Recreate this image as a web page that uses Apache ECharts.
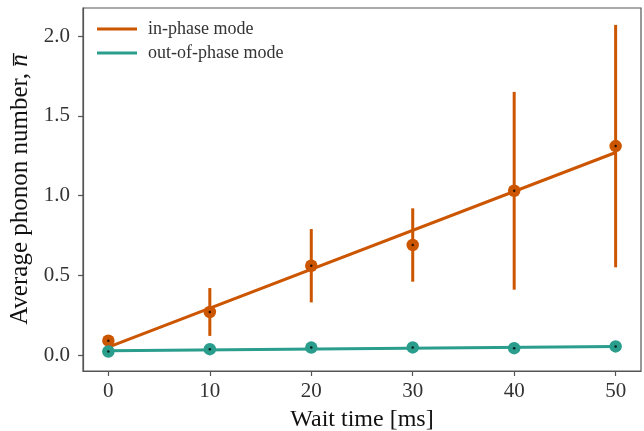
<!DOCTYPE html>
<html>
<head>
<meta charset="utf-8">
<script src="https://cdn.jsdelivr.net/npm/echarts@6/dist/echarts.min.js"></script>
<style>html,body{margin:0;padding:0;background:#fff}#c{width:644px;height:431px}</style>
</head>
<body>
<div id="c"></div>
<script>
// Data
const waitTimes = [0, 10, 20, 30, 40, 50];
const inPhase = [0.09, 0.27, 0.56, 0.69, 1.03, 1.31];
const inPhaseLow = [0.09, 0.12, 0.33, 0.46, 0.41, 0.55];
const inPhaseHigh = [0.09, 0.42, 0.79, 0.92, 1.65, 2.07];
const outPhase = [0.022, 0.037, 0.047, 0.048, 0.043, 0.054];
const fitX = [0, 50];
const inPhaseFit = [0.05, 1.27];
const outPhaseFit = [0.027, 0.053];
const xTicks = [0, 10, 20, 30, 40, 50];
const yTicks = [0, 0.5, 1.0, 1.5, 2.0];

const ORANGE = '#cc5500';
const TEAL = '#2a9d8c';
const FONT = '"Liberation Serif", "DejaVu Serif", serif';
const AXIS = '#555555';

const chart = echarts.init(document.getElementById('c'), null, {renderer: 'canvas'});

function errSeries(low, high, color) {
  return {
    type: 'custom',
    silent: true,
    z: 3,
    data: waitTimes.map((x, i) => [x, low[i], high[i]]),
    encode: {x: 0, y: [1, 2]},
    renderItem: function (params, api) {
      const p1 = api.coord([api.value(0), api.value(1)]);
      const p2 = api.coord([api.value(0), api.value(2)]);
      return {
        type: 'line',
        shape: {x1: p1[0], y1: p1[1], x2: p2[0], y2: p2[1]},
        style: {stroke: color, lineWidth: 3}
      };
    }
  };
}

function pts(vals, color) {
  return [{
    type: 'scatter',
    data: waitTimes.map((x, i) => [x, vals[i]]),
    symbol: 'circle',
    symbolSize: 12.5,
    itemStyle: {color: color, opacity: 1},
    z: 4,
    silent: true
  }, {
    type: 'scatter',
    data: waitTimes.map((x, i) => [x, vals[i]]),
    symbol: 'circle',
    symbolSize: 2.5,
    itemStyle: {color: '#000'},
    z: 5,
    silent: true
  }];
}

function fitLine(name, ys, color) {
  return {
    name: name,
    type: 'line',
    data: fitX.map((x, i) => [x, ys[i]]),
    showSymbol: false,
    symbol: 'none',
    lineStyle: {color: color, width: 3},
    itemStyle: {color: color},
    z: 4,
    silent: true
  };
}

chart.setOption({
  animation: false,
  backgroundColor: '#fff',
  grid: {left: 83, top: 8, right: 3, bottom: 60, containLabel: false, outerBoundsMode: 'none',
         show: true, borderColor: AXIS, borderWidth: 1.2, backgroundColor: 'transparent'},
  legend: {
    left: 92, top: 15, orient: 'vertical', itemGap: 6,
    itemWidth: 40, itemHeight: 3, icon: 'rect',
    textStyle: {fontFamily: FONT, fontSize: 18, color: '#333', padding: [0, 0, 0, 6]},
    data: ['in-phase mode', 'out-of-phase mode']
  },
  xAxis: {
    type: 'value', min: -2.5, max: 52.5,
    name: 'Wait time [ms]', nameLocation: 'middle', nameGap: 37,
    nameTextStyle: {fontFamily: FONT, fontSize: 24, color: '#111'},
    axisLine: {show: true, onZero: false, lineStyle: {color: AXIS, width: 1.2}},
    axisTick: {show: true, length: 5, inside: false, customValues: xTicks, lineStyle: {color: AXIS, width: 1.2}},
    axisLabel: {customValues: xTicks, margin: 10, fontFamily: FONT, fontSize: 21, color: '#333'},
    splitLine: {show: false}
  },
  yAxis: {
    type: 'value', min: -0.1, max: 2.176,
    name: 'Average phonon number, {i|n\u0305}', nameLocation: 'middle', nameGap: 46,
    nameTextStyle: {fontFamily: FONT, fontSize: 25, color: '#111', rich: {i: {fontFamily: FONT, fontSize: 25, fontStyle: 'italic', color: '#111'}}},
    axisLine: {show: true, onZero: false, lineStyle: {color: AXIS, width: 1.2}},
    axisTick: {show: true, length: 5, inside: false, customValues: yTicks, lineStyle: {color: AXIS, width: 1.2}},
    axisLabel: {customValues: yTicks, margin: 13, fontFamily: FONT, fontSize: 21, color: '#333', formatter: v => v.toFixed(1)},
    splitLine: {show: false}
  },
  series: [
    errSeries(inPhaseLow, inPhaseHigh, ORANGE),
    fitLine('in-phase mode', inPhaseFit, ORANGE),
    fitLine('out-of-phase mode', outPhaseFit, TEAL),
    ...pts(inPhase, ORANGE),
    ...pts(outPhase, TEAL)
  ]
});
</script>
</body>
</html>
